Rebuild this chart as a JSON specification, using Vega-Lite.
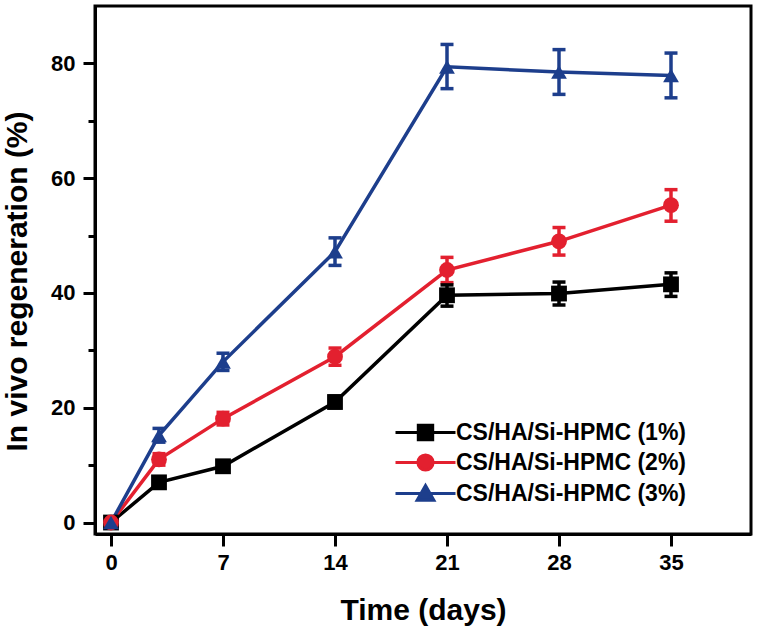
{
  "$schema": "https://vega.github.io/schema/vega-lite/v6.json",
  "width": 656,
  "height": 528,
  "autosize": {"type": "none"},
  "padding": {"left": 95, "top": 6, "right": 9, "bottom": 100},
  "background": "white",
  "config": {
    "font": "Liberation Sans",
    "view": {"stroke": "black", "strokeWidth": 3},
    "axis": {"grid": false, "domainColor": "black", "domainWidth": 3, "tickColor": "black", "tickWidth": 3, "labelColor": "black", "titleColor": "black", "labelFont": "Liberation Sans", "titleFont": "Liberation Sans", "labelFontWeight": "bold", "titleFontWeight": "bold", "labelFontSize": 22, "titleFontSize": 30}
  },
  "data": {"values": [
    {"series": "CS/HA/Si-HPMC (1%)", "day": 0, "value": 0, "lo": -0.5, "hi": 0.5},
    {"series": "CS/HA/Si-HPMC (1%)", "day": 3, "value": 7.0, "lo": 6.2, "hi": 7.8},
    {"series": "CS/HA/Si-HPMC (1%)", "day": 7, "value": 9.8, "lo": 9.0, "hi": 10.6},
    {"series": "CS/HA/Si-HPMC (1%)", "day": 14, "value": 21.0, "lo": 20.0, "hi": 22.0},
    {"series": "CS/HA/Si-HPMC (1%)", "day": 21, "value": 39.6, "lo": 37.7, "hi": 41.4},
    {"series": "CS/HA/Si-HPMC (1%)", "day": 28, "value": 39.9, "lo": 37.9, "hi": 41.9},
    {"series": "CS/HA/Si-HPMC (1%)", "day": 35, "value": 41.5, "lo": 39.4, "hi": 43.5},
    {"series": "CS/HA/Si-HPMC (2%)", "day": 0, "value": 0, "lo": -0.5, "hi": 0.5},
    {"series": "CS/HA/Si-HPMC (2%)", "day": 3, "value": 11.0, "lo": 10.0, "hi": 12.0},
    {"series": "CS/HA/Si-HPMC (2%)", "day": 7, "value": 18.1, "lo": 17.0, "hi": 19.2},
    {"series": "CS/HA/Si-HPMC (2%)", "day": 14, "value": 28.9, "lo": 27.4, "hi": 30.4},
    {"series": "CS/HA/Si-HPMC (2%)", "day": 21, "value": 44.0, "lo": 41.8, "hi": 46.2},
    {"series": "CS/HA/Si-HPMC (2%)", "day": 28, "value": 49.0, "lo": 46.6, "hi": 51.4},
    {"series": "CS/HA/Si-HPMC (2%)", "day": 35, "value": 55.3, "lo": 52.5, "hi": 58.0},
    {"series": "CS/HA/Si-HPMC (3%)", "day": 0, "value": 0, "lo": -0.5, "hi": 0.5},
    {"series": "CS/HA/Si-HPMC (3%)", "day": 3, "value": 15.2, "lo": 14.0, "hi": 16.4},
    {"series": "CS/HA/Si-HPMC (3%)", "day": 7, "value": 28.0, "lo": 26.5, "hi": 29.5},
    {"series": "CS/HA/Si-HPMC (3%)", "day": 14, "value": 47.2, "lo": 44.8, "hi": 49.6},
    {"series": "CS/HA/Si-HPMC (3%)", "day": 21, "value": 79.4, "lo": 75.6, "hi": 83.3},
    {"series": "CS/HA/Si-HPMC (3%)", "day": 28, "value": 78.5, "lo": 74.6, "hi": 82.4},
    {"series": "CS/HA/Si-HPMC (3%)", "day": 35, "value": 77.9, "lo": 74.0, "hi": 81.8}
  ]},
  "encoding": {
    "x": {"field": "day", "type": "quantitative",
      "scale": {"domain": [-1, 40], "nice": false, "zero": false},
      "axis": {"title": "Time (days)", "values": [0, 7, 14, 21, 28, 35], "tickSize": 12, "labelPadding": 6, "titlePadding": 22}},
    "color": {"field": "series", "type": "nominal",
      "scale": {"domain": ["CS/HA/Si-HPMC (1%)", "CS/HA/Si-HPMC (2%)", "CS/HA/Si-HPMC (3%)"], "range": ["#000000", "#e3202f", "#1d3e8c"]},
      "legend": {"title": null, "orient": "none", "legendX": 319, "legendY": 415, "padding": 0,
        "labelFontSize": 23, "labelFontWeight": "bold", "labelColor": "black", "labelFont": "Liberation Sans", "labelLimit": 400,
        "symbolSize": 256, "symbolStrokeWidth": 3, "symbolOpacity": 1, "rowPadding": 2, "labelOffset": 19,
        "encode": {"symbols": {"update": {
          "fill": {"scale": "color", "field": "value"},
          "stroke": {"scale": "color", "field": "value"},
          "shape": {"signal": "datum.value === 'CS/HA/Si-HPMC (1%)' ? 'M-3.75,0H3.75M-0.9,-0.9H0.9V0.9H-0.9Z' : datum.value === 'CS/HA/Si-HPMC (2%)' ? 'M-3.75,0H3.75M0.95,0A0.95,0.95 0 1,1 -0.95,0A0.95,0.95 0 1,1 0.95,0Z' : 'M-3.75,0H3.75M0,-1L1.05,0.85H-1.05Z'"}
        }}}}
    }
  },
  "layer": [
    {
      "mark": {"type": "errorbar", "rule": {"strokeWidth": 3.5, "opacity": 1}, "ticks": {"size": 13, "thickness": 3.5, "opacity": 1}},
      "encoding": {
        "y": {"field": "lo", "type": "quantitative", "scale": {"domain": [-2, 90], "nice": false, "zero": false},
          "axis": {"title": "In vivo regeneration (%)", "values": [0, 10, 20, 30, 40, 50, 60, 70, 80],
            "labelExpr": "datum.value % 20 === 0 ? datum.label : ''",
            "tickSize": {"condition": {"test": "datum.value % 20 === 0", "value": 12}, "value": 7},
            "labelPadding": 8, "titlePadding": 18, "titleY": 275}},
        "y2": {"field": "hi"}
      }
    },
    {
      "mark": {"type": "line", "strokeWidth": 3.5},
      "encoding": {
        "y": {"field": "value", "type": "quantitative", "title": "In vivo regeneration (%)"}
      }
    },
    {
      "mark": {"type": "point", "filled": true, "opacity": 1, "size": 250},
      "encoding": {
        "y": {"field": "value", "type": "quantitative", "title": "In vivo regeneration (%)"},
        "shape": {"condition": [
          {"test": "datum.series === 'CS/HA/Si-HPMC (1%)'", "value": "square"},
          {"test": "datum.series === 'CS/HA/Si-HPMC (2%)'", "value": "circle"}],
          "value": "triangle-up"}
      }
    }
  ]
}
